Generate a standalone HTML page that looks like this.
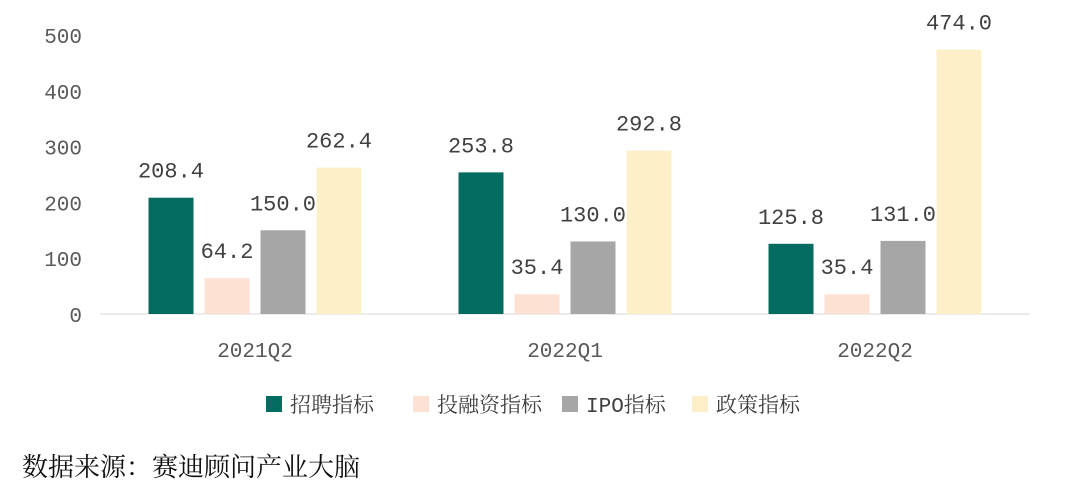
<!DOCTYPE html>
<html><head><meta charset="utf-8"><style>
body{margin:0;background:#fff;}
svg{display:block;font-family:"Liberation Mono","Noto Serif CJK SC",monospace;}
</style></head><body>
<svg id="chart" width="1080" height="486">
<g id="axis"></g><g id="bars"></g><g id="legend"></g>
<text x="22" y="476" font-size="26" fill="#111" font-family="'Noto Serif CJK SC',serif">数据来源：赛迪顾问产业大脑</text>
</svg>
<script>
const categories=["2021Q2","2022Q1","2022Q2"];
const seriesNames=["招聘指标","投融资指标","IPO指标","政策指标"];
const recruit=[208.4,253.8,125.8];
const finance=[64.2,35.4,35.4];
const ipo=[150.0,130.0,131.0];
const policy=[262.4,292.8,474.0];
const yTicks=[0,100,200,300,400,500];
const colors=["#046b60","#fde1d3","#a6a6a6","#fdf0c9"];
const NS="http://www.w3.org/2000/svg";
function mk(t,a,p){const e=document.createElementNS(NS,t);for(const k in a)e.setAttribute(k,a[k]);p.appendChild(e);return e;}
const x0=100,x1=1030,yBase=314,yTop=35,yMax=500;
const y=v=>yBase-(v/yMax)*(yBase-yTop);
const catW=(x1-x0)/categories.length;
const cx=i=>x0+catW*(i+0.5);
const bw=45,step=56;
const ax=document.getElementById('axis');
yTicks.forEach(t=>{const e=mk('text',{x:82,y:y(t)+8,'text-anchor':'end','font-size':21,fill:'#595959'},ax);e.textContent=t;

});
const base=mk('line',{x1:x0,x2:x1,y1:yBase,y2:yBase,stroke:'#d9d9d9','stroke-width':1},ax);


categories.forEach((c,i)=>{const e=mk('text',{x:cx(i),y:357,'text-anchor':'middle','font-size':21,fill:'#595959'},ax);e.textContent=c;

});
const data=[recruit,finance,ipo,policy];
const bg=document.getElementById('bars');
data.forEach((s,k)=>{s.forEach((v,i)=>{
const bx=cx(i)-2*step+k*step+(step-bw)/2;
const r=mk('rect',{x:bx,y:y(v),width:bw,height:yBase-y(v),fill:colors[k]},bg);


const t=mk('text',{x:bx+bw/2,y:y(v)-20,'text-anchor':'middle','font-size':22,fill:'#404040'},bg);
t.textContent=v.toFixed(1);


});});
const lg=document.getElementById('legend');
const lx=[266,413,562,692];
seriesNames.forEach((n,k)=>{
const r=mk('rect',{x:lx[k],y:396,width:16,height:16,fill:colors[k]},lg);


const t=mk('text',{x:lx[k]+24,y:412,'font-size':21,fill:'#404040'},lg);t.textContent=n;


});
</script>
</body></html>
